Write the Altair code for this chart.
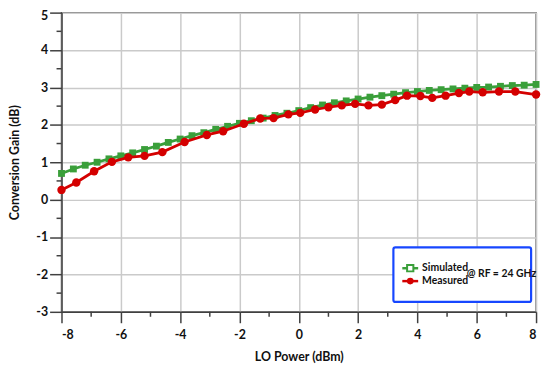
import altair as alt
import pandas as pd

sim_x = [-8.0, -7.6, -7.2, -6.8, -6.4, -6.0, -5.6, -5.2, -4.8, -4.4, -4.0, -3.6, -3.2, -2.8,
         -2.4, -2.0, -1.6, -1.2, -0.8, -0.4, 0.0, 0.4, 0.8, 1.2, 1.6, 2.0, 2.4, 2.8, 3.2, 3.6,
         4.0, 4.4, 4.8, 5.2, 5.6, 6.0, 6.4, 6.8, 7.2, 7.6, 8.0]
sim_y = [0.70, 0.82, 0.92, 1.00, 1.09, 1.17, 1.25, 1.34, 1.43, 1.53, 1.62, 1.71, 1.79, 1.88,
         1.96, 2.04, 2.11, 2.18, 2.25, 2.31, 2.38, 2.46, 2.53, 2.59, 2.64, 2.69, 2.74, 2.78,
         2.82, 2.86, 2.89, 2.92, 2.94, 2.96, 2.98, 3.00, 3.01, 3.03, 3.05, 3.06, 3.08]

meas_x = [-8.0, -7.5, -6.9, -6.3, -5.75, -5.2, -4.6, -3.85, -3.1, -2.55, -1.85, -1.3, -0.85,
          -0.35, 0.05, 0.55, 1.0, 1.45, 1.9, 2.35, 2.8, 3.25, 3.65, 4.1, 4.5, 4.95, 5.4, 5.75,
          6.2, 6.75, 7.3, 8.0]
meas_y = [0.26, 0.46, 0.76, 1.01, 1.13, 1.17, 1.27, 1.54, 1.73, 1.83, 2.03, 2.17, 2.18,
          2.28, 2.32, 2.41, 2.47, 2.52, 2.56, 2.52, 2.54, 2.66, 2.78, 2.77, 2.72, 2.78, 2.85,
          2.89, 2.87, 2.89, 2.89, 2.81]

x_major = [-8, -6, -4, -2, 0, 2, 4, 6, 8]
x_minor = [-7, -5, -3, -1, 1, 3, 5, 7]
y_major = [-3, -2, -1, 0, 1, 2, 3, 4, 5]
y_minor = [-2.5, -1.5, -0.5, 0.5, 1.5, 2.5, 3.5, 4.5]

legend_labels = ["Simulated", "Measured"]
legend_note = "@ RF = 24 GHz"

GREEN = "#3a9f3a"
RED = "#d40000"
FONT = "Lato"
W, H = 479, 302

sim_df = pd.DataFrame({"x": sim_x, "y": sim_y})
meas_df = pd.DataFrame({"x": meas_x, "y": meas_y})

xscale = alt.Scale(domain=[-8, 8], nice=False, zero=False)
yscale = alt.Scale(domain=[-3, 5], nice=False, zero=False)

xaxis = alt.Axis(values=x_major, tickCount=30, title="LO Power (dBm)", labelOverlap=False,
                 labelExpr="toString(datum.value)", tickSize=11, labelPadding=6, titlePadding=10)
yaxis = alt.Axis(values=y_major, tickCount=30, title="Conversion Gain (dB)", labelOverlap=False,
                 labelExpr="toString(datum.value)", tickSize=12, labelPadding=2, titlePadding=14,
                 labelBaseline=alt.condition("datum.value == 5", alt.value("top"), alt.value("middle")),
                 labelOffset=alt.condition("datum.value == 5", alt.value(-3), alt.value(0)))

base_sim = alt.Chart(sim_df).encode(
    x=alt.X("x:Q", scale=xscale, axis=xaxis),
    y=alt.Y("y:Q", scale=yscale, axis=yaxis),
)
sim_line = base_sim.mark_line(color=GREEN, strokeWidth=2.8)
sim_pts = base_sim.mark_point(shape="square", filled=True, color=GREEN, size=48, opacity=1)

base_meas = alt.Chart(meas_df).encode(x=alt.X("x:Q", scale=xscale), y=alt.Y("y:Q", scale=yscale))
meas_line = base_meas.mark_line(color=RED, strokeWidth=2.8)
meas_pts = base_meas.mark_point(shape="circle", filled=True, color=RED, size=72, opacity=1)

# minor ticks, driven through the scales
xminor = alt.Chart(pd.DataFrame({"x": x_minor})).mark_rule(color="#404040", strokeWidth=1.5).encode(
    x=alt.X("x:Q", scale=xscale), y=alt.value(H), y2=alt.value(H + 5))
yminor = alt.Chart(pd.DataFrame({"y": y_minor})).mark_rule(color="#404040", strokeWidth=1.5).encode(
    y=alt.Y("y:Q", scale=yscale), x=alt.value(-5), x2=alt.value(0))

one = pd.DataFrame({"a": [0]})
leg_box = alt.Chart(one).mark_rect(fill="white", stroke="#1747ff", strokeWidth=2.2, cornerRadius=2).encode(
    x=alt.value(335), x2=alt.value(474), y=alt.value(237), y2=alt.value(292))
leg_gline = alt.Chart(one).mark_rule(color=GREEN, strokeWidth=2.5).encode(
    x=alt.value(344), x2=alt.value(360), y=alt.value(258))
leg_gpt = alt.Chart(one).mark_point(shape="square", filled=False, color=GREEN, size=40,
                                    strokeWidth=2, fill="white", opacity=1).encode(
    x=alt.value(352), y=alt.value(258))
leg_rline = alt.Chart(one).mark_rule(color=RED, strokeWidth=2.5).encode(
    x=alt.value(344), x2=alt.value(360), y=alt.value(271))
leg_rpt = alt.Chart(one).mark_point(shape="circle", filled=True, color=RED, size=45, opacity=1).encode(
    x=alt.value(352), y=alt.value(271))
txt = dict(align="left", baseline="middle", font=FONT, fontWeight="bold", fontSize=10.5, color="#111")
leg_t1 = alt.Chart(one).mark_text(text=legend_labels[0], **txt).encode(x=alt.value(364), y=alt.value(258))
leg_t2 = alt.Chart(one).mark_text(text=legend_labels[1], **txt).encode(x=alt.value(364), y=alt.value(271))
leg_t3 = alt.Chart(one).mark_text(text=legend_note, **txt).encode(x=alt.value(409), y=alt.value(264))

chart = alt.layer(
    sim_line, sim_pts, meas_line, meas_pts, xminor, yminor,
    leg_box, leg_gline, leg_gpt, leg_rline, leg_rpt, leg_t1, leg_t2, leg_t3,
).properties(
    width=W, height=H,
    autosize=alt.AutoSizeParams(type="none"),
    padding={"left": 54, "top": 3, "right": 6, "bottom": 52},
).configure_view(
    stroke="#6a6a6a", strokeWidth=1.5
).configure_axis(
    domainColor="#404040", domainWidth=1.5,
    tickColor="#404040", tickWidth=1.5,
    grid=True, gridColor="#cacaca", gridWidth=1.5,
    labelFont=FONT, labelFontWeight="bold", labelFontSize=12.5, labelColor="#111",
    titleFont=FONT, titleFontWeight="bold", titleFontSize=12.5, titleColor="#111",
)

chart.save("out.html", embed_options={"renderer": "svg", "actions": False})
